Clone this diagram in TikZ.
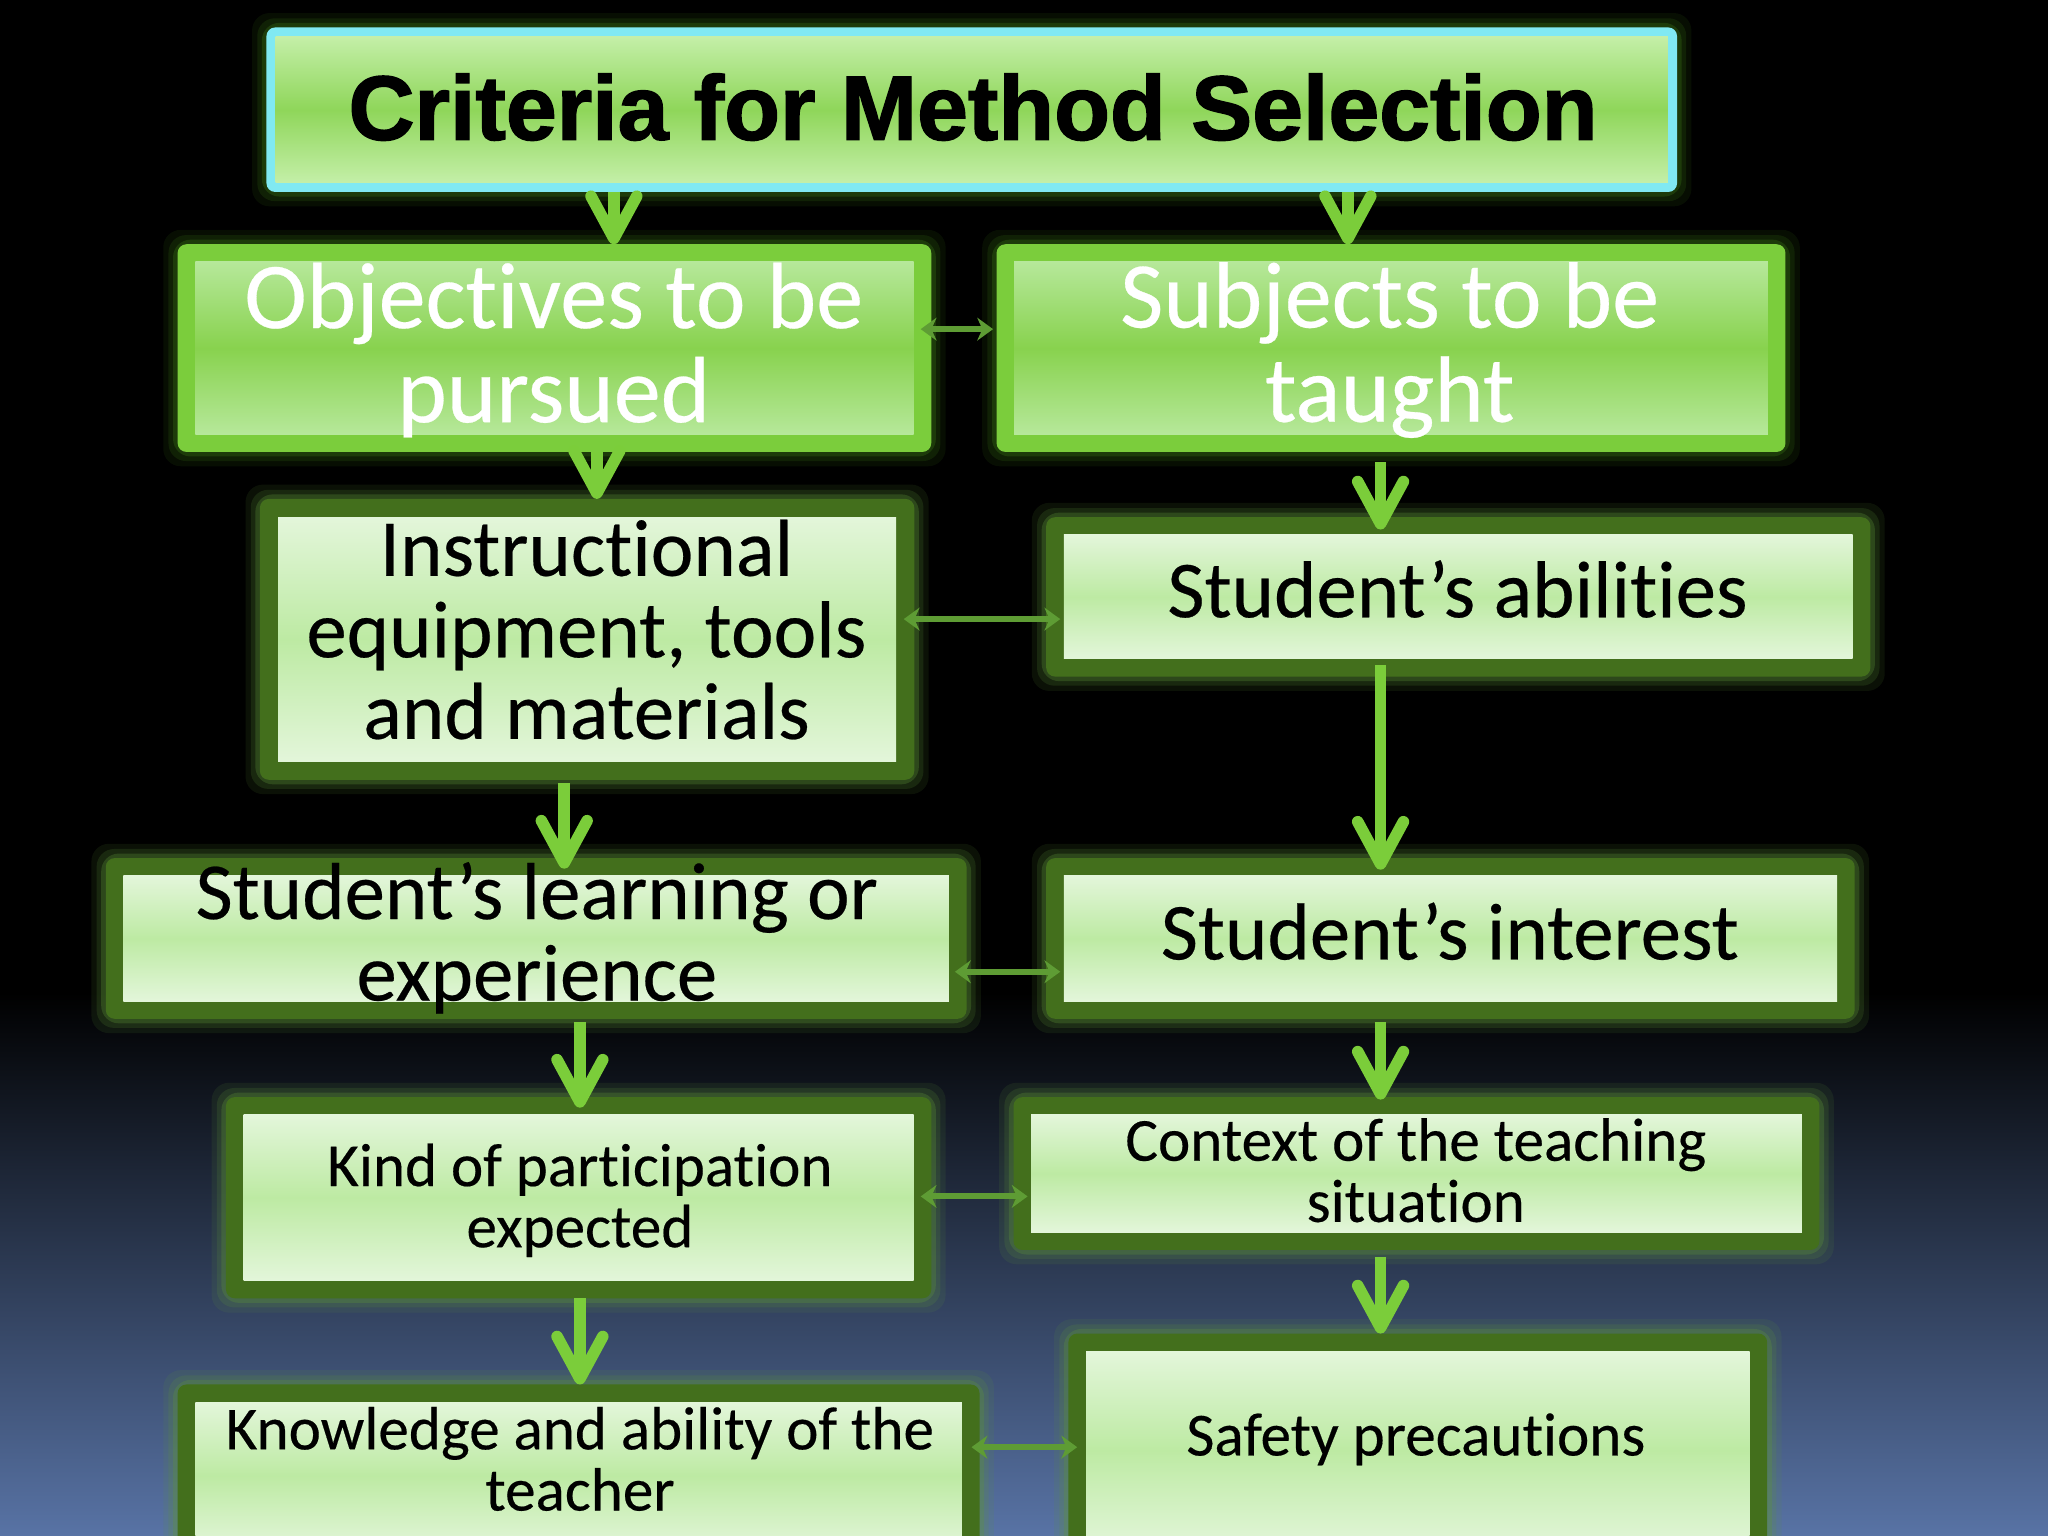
\documentclass[tikz,border=0pt]{standalone}
\usepackage{fontspec}
\setmainfont{Carlito}[Ligatures=NoCommon, FakeBold=0.3]
\newfontfamily\titlefont{Liberation Sans}[BoldFeatures={FakeBold=1.6}]
\usetikzlibrary{arrows.meta,fit}
\definecolor{frameA}{HTML}{7BCD3C}
\definecolor{frameB}{HTML}{436F1C}
\definecolor{inA1}{HTML}{B6E89A}
\definecolor{inA2}{HTML}{88D24E}
\definecolor{inB1}{HTML}{E3F6DA}
\definecolor{inB2}{HTML}{BDEAA3}
\definecolor{tcyan}{HTML}{80E9F2}
\definecolor{tin1}{HTML}{C4EFA8}
\definecolor{tin2}{HTML}{8FD65A}
\definecolor{glowA}{HTML}{3E7A18}
\definecolor{glowB}{HTML}{5E9438}
\definecolor{arrowG}{HTML}{7BCD3A}
\definecolor{darrowG}{HTML}{5E9C34}
\definecolor{bgblue}{HTML}{5873A5}
% name, x1, y1, x2, y2, glow colour, frame colour, inner style, inset
\newcommand\gbox[9]{%
  \foreach \g/\o in {11/0.12,7/0.18,3.5/0.3}{%
    \fill[#6,opacity=\o,rounded corners=5pt] (#2-\g,#3-\g) rectangle (#4+\g,#5+\g);}%
  \fill[#7,rounded corners=2.5pt] (#2,#3) rectangle (#4,#5);%
  \path[#8] (#2+#9,#3+#9) rectangle (#4-#9,#5-#9);%
  \node[fit={(#2,#3) (#4,#5)}, inner sep=0pt, outer sep=0pt] (#1) {};%
}
\begin{document}
\begin{tikzpicture}[x=0.013061cm, y=-0.013061cm,
  innerA/.style={top color=inA1, bottom color=inA1, middle color=inA2},
  innerB/.style={top color=inB1, bottom color=inB1, middle color=inB2},
  innerT/.style={top color=tin1, bottom color=tin1, middle color=tin2},
  tA/.style={align=center, text=white, inner sep=0pt, font=\fontsize{26.8}{26.8}\selectfont},
  tM/.style={align=center, text=black, inner sep=0pt, font=\fontsize{23}{23.2}\selectfont},
  tS/.style={align=center, text=black, inner sep=0pt, font=\fontsize{17.4}{17.4}\selectfont},
  bigarrow/.style={draw=arrowG, line width=3.3pt, -{Straight Barb[round, length=12pt, width=13pt]}},
  duoarrow/.style={draw=darrowG, line width=1.7pt, {Stealth[length=4.5pt,width=6.5pt]}-{Stealth[length=4.5pt,width=6.5pt]}}]
\clip (0,0) rectangle (1568,1176);
\useasboundingbox (0,0) rectangle (1568,1176);
\fill[black] (0,0) rectangle (1568,1176);
\shade[top color=black, bottom color=bgblue] (0,760) rectangle (1568,1176);

% boxes
\gbox{title}{204}{21}{1284}{147}{glowA}{tcyan}{innerT}{7}
\gbox{obj}{136}{187}{713}{346}{glowA}{frameA}{innerA}{13.5}
\gbox{subj}{763}{187}{1367}{346}{glowA}{frameA}{innerA}{13.5}
\gbox{instr}{199}{382}{700}{597}{glowB}{frameB}{innerB}{14}
\gbox{abil}{801}{396}{1432}{518}{glowB}{frameB}{innerB}{13.5}
\gbox{learn}{81}{657}{740}{780}{glowB}{frameB}{innerB}{13.5}
\gbox{inter}{801}{657}{1420}{780}{glowB}{frameB}{innerB}{13.5}
\gbox{kind}{173}{840}{713}{994}{glowB}{frameB}{innerB}{13.5}
\gbox{cont}{776}{840}{1393}{957}{glowB}{frameB}{innerB}{13.5}
\gbox{know}{136}{1060}{750}{1200}{glowB}{frameB}{innerB}{13.5}
\gbox{safe}{818}{1021}{1353}{1200}{glowB}{frameB}{innerB}{13.5}

% texts
\node[anchor=base, inner sep=0pt, font=\titlefont\fontsize{26}{26}\selectfont\bfseries] (titleT) at (745,107) {Criteria for Method Selection};
\node[tA] (objT) at (424,268) {Objectives to be\\pursued};
\node[tA] (subjT) at (1064,268) {Subjects to be\\taught};
\node[tM] (instrT) at (449,482) {Instructional\\equipment, tools\\and materials};
\node[tM] (abilT) at (1116,451) {Student’s abilities};
\node[tM] (learnT) at (411,718) {Student’s learning or\\experience};
\node[tM] (interT) at (1110,713) {Student’s interest};
\node[tS] (kindT) at (444,919) {Kind of participation\\expected};
\node[tS] (contT) at (1084,896) {Context of the teaching\\situation};
\node[tS] (knowT) at (444,1117) {Knowledge and ability of the\\teacher};
\node[tS] (safeT) at (1084,1102) {Safety precautions};

% column / row helpers
\coordinate (cA) at (470,0);
\coordinate (cB) at (1032,0);
\coordinate (cC) at (457,0);
\coordinate (cD) at (1057,0);
\coordinate (cE) at (432,0);
\coordinate (cF) at (444,0);
\coordinate (r1) at (0,252);
\coordinate (r2) at (0,474);
\coordinate (r3) at (0,744);
\coordinate (r4) at (0,916);
\coordinate (r5) at (0,1108);

% vertical arrows
\draw[bigarrow] (title.south -| cA) -- (obj.north -| cA);
\draw[bigarrow] (title.south -| cB) -- (subj.north -| cB);
\draw[bigarrow] (obj.south -| cC) -- (instr.north -| cC);
\draw[bigarrow, shorten <=3pt, shorten >=-3.5pt] (subj.south -| cD) -- (abil.north -| cD);
\draw[bigarrow, shorten <=-3.3pt, shorten >=-3.3pt] (abil.south -| cD) -- (inter.north -| cD);
\draw[bigarrow, shorten <=1pt, shorten >=-3pt] (instr.south -| cE) -- (learn.north -| cE);
\draw[bigarrow, shorten <=1pt, shorten >=-3pt] (learn.south -| cF) -- (kind.north -| cF);
\draw[bigarrow, shorten <=1pt, shorten >=-0.7pt] (inter.south -| cD) -- (cont.north -| cD);
\draw[bigarrow] (kind.south -| cF) -- (know.north -| cF);
\draw[bigarrow, shorten <=2pt] (cont.south -| cD) -- (safe.north -| cD);

% horizontal double arrows
\draw[duoarrow, shorten <=-3pt, shorten >=1pt] (obj.east |- r1) -- (subj.west |- r1);
\draw[duoarrow, shorten <=-3pt, shorten >=-4pt] (instr.east |- r2) -- (abil.west |- r2);
\draw[duoarrow, shorten <=-3.3pt, shorten >=-4pt] (learn.east |- r3) -- (inter.west |- r3);
\draw[duoarrow, shorten <=-3pt, shorten >=-4pt] (kind.east |- r4) -- (cont.west |- r4);
\draw[duoarrow, shorten <=-2.3pt, shorten >=-2.5pt] (know.east |- r5) -- (safe.west |- r5);
\end{tikzpicture}
\end{document}
